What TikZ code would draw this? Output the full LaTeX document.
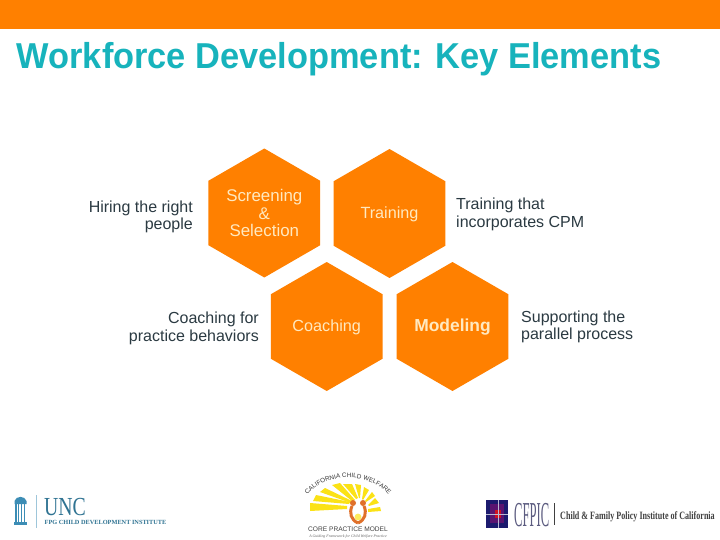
\documentclass[tikz,border=0pt]{standalone}
\usepackage{fontspec}
\setmainfont{Liberation Sans}
\newfontfamily\serifface{Liberation Serif}
\newfontfamily\titleface[FakeStretch=0.955]{Liberation Sans}
\newfontfamily\uncface[FakeStretch=0.76]{Liberation Serif}
\newfontfamily\cfpicface[FakeStretch=0.36]{Liberation Serif}
\newfontfamily\cfnameface[FakeStretch=0.72]{Liberation Serif}
\usetikzlibrary{shapes.geometric,decorations.text}
\definecolor{orangeBar}{HTML}{FF8000}
\definecolor{tealTitle}{HTML}{17B3BC}
\definecolor{bodyText}{HTML}{2B3A42}
\definecolor{hexText}{HTML}{FFE9C0}
\definecolor{uncBlue}{HTML}{3C8DB5}
\definecolor{uncDark}{HTML}{2F7392}
\definecolor{sunYellow}{HTML}{FBE216}
\definecolor{figOrange}{HTML}{E0702A}
\definecolor{cfNavy}{HTML}{1C1A6E}
\definecolor{cfPurple}{HTML}{5A1470}
\definecolor{cfRed}{HTML}{D01020}
\definecolor{cfGray}{HTML}{5C5C80}
\newcommand{\lowered}[1]{\raisebox{-1pt}[\height][\depth]{#1}}
\tikzset{
  hexcell/.style={regular polygon,regular polygon sides=6,shape border rotate=30,
    minimum size=129pt,inner sep=0pt,outer sep=0pt,fill=orangeBar,text=hexText,
    font=\fontsize{16.2}{17.5}\selectfont,align=center},
  sidelabel/.style={inner sep=0pt,text=bodyText,font=\fontsize{16}{17.6}\selectfont},
  ray/.style={fill=sunYellow,draw=none},
  figure part/.style={fill=figOrange,draw=none}
}
\begin{document}
\begin{tikzpicture}[x=1pt,y=-1pt]
\useasboundingbox (0,0) rectangle (720,540);
\fill[white] (0,0) rectangle (720,540);
\fill[orangeBar] (0,0) rectangle (720,29);
\node[anchor=base west,inner sep=0pt,text=tealTitle,font=\titleface\bfseries\fontsize{36}{38}\selectfont] (title) at (16.5,69) {Workforce Development: Key Elements};
% hexagons
\node[hexcell,font=\fontsize{16.9}{17.5}\selectfont] (screen) at (264.3,213) {Screening\\\&\\Selection};
\node[hexcell] (train) at (389.5,213.5) {\lowered{Training}};
\node[hexcell] (coach) at (326.7,326.5) {\lowered{Coaching}};
\node[hexcell,font=\bfseries\fontsize{17.4}{18}\selectfont] (model) at (452.5,326.5) {\lowered{Modeling}};
% labels
\node[sidelabel,anchor=east,align=right] (l1) at (193,217) {Hiring the right\\people};
\node[sidelabel,anchor=west,align=left] (l2) at (456,214.5) {Training that\\incorporates CPM};
\node[sidelabel,anchor=east,align=right] (l3) at (259,328.5) {Coaching for\\practice behaviors};
\node[sidelabel,anchor=west,align=left] (l4) at (521,327) {Supporting the\\parallel process};
% UNC logo
\fill[uncBlue] (14.5,501) .. controls (16,495.5) and (25,495.5) .. (26.5,501) -- (26.5,504) -- (14.5,504) -- cycle;
\foreach \cx in {16,18.7,21.4,24.8}{\fill[uncBlue] (\cx-0.6,504) rectangle (\cx+0.6,522);}
\fill[uncBlue] (14,522) rectangle (27,525);
\draw[uncBlue!50,line width=0.7pt] (36,495) -- (36,528);
\node[anchor=base west,inner sep=0pt,text=uncDark,font=\uncface\fontsize{26}{26}\selectfont] (unc) at (44,515) {UNC};
\node[anchor=base west,inner sep=0pt,text=uncDark,font=\serifface\bfseries\fontsize{6.3}{7}\selectfont] (fpg) at (44.5,524) {FPG CHILD DEVELOPMENT INSTITUTE};
% CA core practice logo
\path[decorate,decoration={text along path,text align=center,
  text={|\fontsize{6.3}{7}\selectfont\color{black!80}|CALIFORNIA CHILD WELFARE}}]
  (305,498) .. controls (323,471) and (373,471) .. (391,498);
\fill[ray] (310,503) -- (347,506) -- (347,509) -- (310,511) -- cycle;
\fill[ray] (316,495) -- (350,502) -- (349,504) -- (313,501) -- cycle;
\fill[ray] (325,488) -- (352,501) -- (351,503) -- (320,492) -- cycle;
\fill[ray] (332,485) -- (340,483) -- (355,500) -- (352,501) -- cycle;
\fill[ray] (343,484) -- (352,484) -- (358,498) -- (356,499) -- cycle;
\fill[ray] (355,484) -- (361,485) -- (360,498) -- (359,498) -- cycle;
\fill[ray] (364,487) -- (369,490) -- (363,500) -- (362,499) -- cycle;
\fill[ray] (372,492) -- (375,496) -- (366,502) -- (365,501) -- cycle;
\fill[ray] (375,498) -- (379,503) -- (369,506) -- (368,505) -- cycle;
\fill[ray] (368,509) -- (380,507) -- (381,511) -- (368,512) -- cycle;
\draw[figOrange,line width=3pt] (352,506) .. controls (349,513) and (351,520) .. (358,523);
\draw[figOrange,line width=3pt] (364,506) .. controls (367,513) and (365,520) .. (358,523);
\fill[figure part] (353,503) circle (3);
\fill[figure part] (363,503) circle (3);
\fill[sunYellow!70] (358,517) circle (3.4);
\node[anchor=base,inner sep=0pt,text=black!75,font=\fontsize{6.6}{7}\selectfont] (cpm) at (348,531) {CORE PRACTICE MODEL};
\node[anchor=base,inner sep=0pt,text=black!60,font=\serifface\itshape\fontsize{3.9}{4}\selectfont] (tag) at (348,537) {A Guiding Framework for Child Welfare Practice};
% CFPIC logo
\fill[cfNavy] (486,500) rectangle (508,528);
\fill[cfPurple] (490,504) rectangle (504,523);
\fill[cfRed] (495,510) rectangle (501,518);
\draw[white!70!cfNavy,line width=0.4pt] (486,514) -- (508,514) (498,500) -- (498,528);
\node[anchor=base west,inner sep=0pt,text=cfGray,font=\cfpicface\fontsize{35}{35}\selectfont] (cf) at (514,526) {CFPIC};
\draw[black!75,line width=0.8pt] (554,503) -- (554,525);
\node[anchor=base west,inner sep=0pt,text=black!75,font=\cfnameface\bfseries\fontsize{11.2}{12}\selectfont] (cfname) at (560,519) {Child \& Family Policy Institute of California};
\end{tikzpicture}
\end{document}
